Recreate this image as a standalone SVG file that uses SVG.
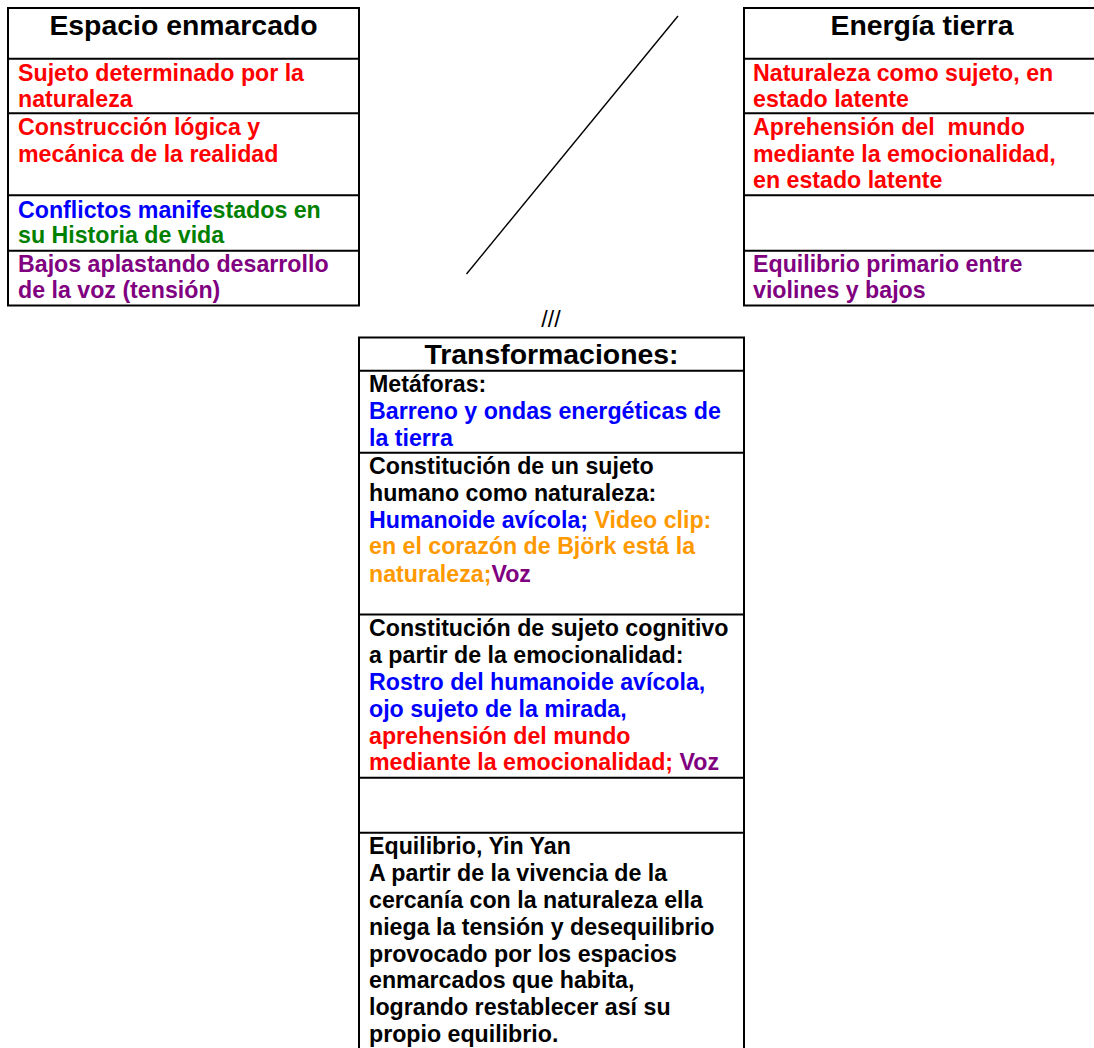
<svg xmlns="http://www.w3.org/2000/svg" width="1094" height="1048" viewBox="0 0 1094 1048">
<style>
text{font-family:"Liberation Sans",Arial,sans-serif;font-weight:bold;font-size:23.2px;}
.h{font-size:28.4px;text-anchor:middle;fill:#000;}
.k{fill:#000}.r{fill:#FF0000}.b{fill:#0000FF}.g{fill:#008000}.p{fill:#800080}.o{fill:#FF9900}
.box{fill:#fff;stroke:#000;stroke-width:2;}
.ln{stroke:#000;stroke-width:2;}
</style>
<rect width="1094" height="1048" fill="#fff"/>
<g id="espacio-enmarcado">
<rect class="box" x="8" y="8" width="351" height="297.5"/>
<line class="ln" x1="8" y1="58.7" x2="359" y2="58.7"/>
<line class="ln" x1="8" y1="113.3" x2="359" y2="113.3"/>
<line class="ln" x1="8" y1="195.3" x2="359" y2="195.3"/>
<line class="ln" x1="8" y1="250.7" x2="359" y2="250.7"/>
<text class="h" x="183.5" y="35">Espacio enmarcado</text>
<text class="r" x="18" y="80.7">Sujeto determinado por la</text>
<text class="r" x="18" y="106.7">naturaleza</text>
<text class="r" x="18" y="135">Construcción lógica y</text>
<text class="r" x="18" y="161.7">mecánica de la realidad</text>
<text x="18" y="217.5"><tspan class="b">Conflictos manife</tspan><tspan class="g">stados en</tspan></text>
<text class="g" x="18" y="243.3">su Historia de vida</text>
<text class="p" x="18" y="272">Bajos aplastando desarrollo</text>
<text class="p" x="18" y="298">de la voz (tensión)</text>
</g>
<g id="energia-tierra">
<rect class="box" x="744" y="8" width="360" height="297.5"/>
<line class="ln" x1="744" y1="58.7" x2="1094" y2="58.7"/>
<line class="ln" x1="744" y1="113.3" x2="1094" y2="113.3"/>
<line class="ln" x1="744" y1="195.3" x2="1094" y2="195.3"/>
<line class="ln" x1="744" y1="250.7" x2="1094" y2="250.7"/>
<text class="h" x="922" y="35">Energía tierra</text>
<text class="r" x="753" y="80.7">Naturaleza como sujeto, en</text>
<text class="r" x="753" y="106.7">estado latente</text>
<text class="r" x="753" y="135" style="white-space:pre">Aprehensión del  mundo</text>
<text class="r" x="753" y="161.7">mediante la emocionalidad,</text>
<text class="r" x="753" y="188.4">en estado latente</text>
<text class="p" x="753" y="272">Equilibrio primario entre</text>
<text class="p" x="753" y="298">violines y bajos</text>
</g>
<g id="connectors">
<line x1="678" y1="16" x2="466.5" y2="274" stroke="#000" stroke-width="1.4"/>
<path d="M545.5,778.5 V812.5 H539.5 L551,824 L562.5,812.5 H556.5 V778.5" fill="#fff" stroke="#000" stroke-width="1.3"/>
</g>
<g id="separator">
<text x="551" y="326.5" style="font-weight:normal;text-anchor:middle">///</text>
</g>
<g id="transformaciones">
<rect class="box" x="359" y="337.5" width="385" height="720"/>
<line class="ln" x1="359" y1="370.7" x2="744" y2="370.7"/>
<line class="ln" x1="359" y1="452.7" x2="744" y2="452.7"/>
<line class="ln" x1="359" y1="614.5" x2="744" y2="614.5"/>
<line class="ln" x1="359" y1="777.7" x2="744" y2="777.7"/>
<line class="ln" x1="359" y1="832.7" x2="744" y2="832.7"/>
<text class="h" x="551.5" y="363.5">Transformaciones:</text>
<text class="k" x="369" y="392">Metáforas:</text>
<text class="b" x="369" y="419">Barreno y ondas energéticas de</text>
<text class="b" x="369" y="445.5">la tierra</text>
<text class="k" x="369" y="474.3">Constitución de un sujeto</text>
<text class="k" x="369" y="501.3">humano como naturaleza:</text>
<text x="369" y="527.5"><tspan class="b">Humanoide avícola;</tspan><tspan class="o"> Video clip:</tspan></text>
<text class="o" x="369" y="554.3">en el corazón de Björk está la</text>
<text x="369" y="581.5"><tspan class="o">naturaleza;</tspan><tspan class="p">Voz</tspan></text>
<text class="k" x="369" y="636.2">Constitución de sujeto cognitivo</text>
<text class="k" x="369" y="663">a partir de la emocionalidad:</text>
<text class="b" x="369" y="689.8">Rostro del humanoide avícola,</text>
<text class="b" x="369" y="716.8">ojo sujeto de la mirada,</text>
<text class="r" x="369" y="743.5">aprehensión del mundo</text>
<text x="369" y="770"><tspan class="r">mediante la emocionalidad;</tspan><tspan class="p"> Voz</tspan></text>
<text class="k" x="369" y="854.3">Equilibrio, Yin Yan</text>
<text class="k" x="369" y="881.1">A partir de la vivencia de la</text>
<text class="k" x="369" y="907.9">cercanía con la naturaleza ella</text>
<text class="k" x="369" y="934.7">niega la tensión y desequilibrio</text>
<text class="k" x="369" y="961.5">provocado por los espacios</text>
<text class="k" x="369" y="988.3">enmarcados que habita,</text>
<text class="k" x="369" y="1015.1">logrando restablecer así su</text>
<text class="k" x="369" y="1041.5">propio equilibrio.</text>
</g>
</svg>
